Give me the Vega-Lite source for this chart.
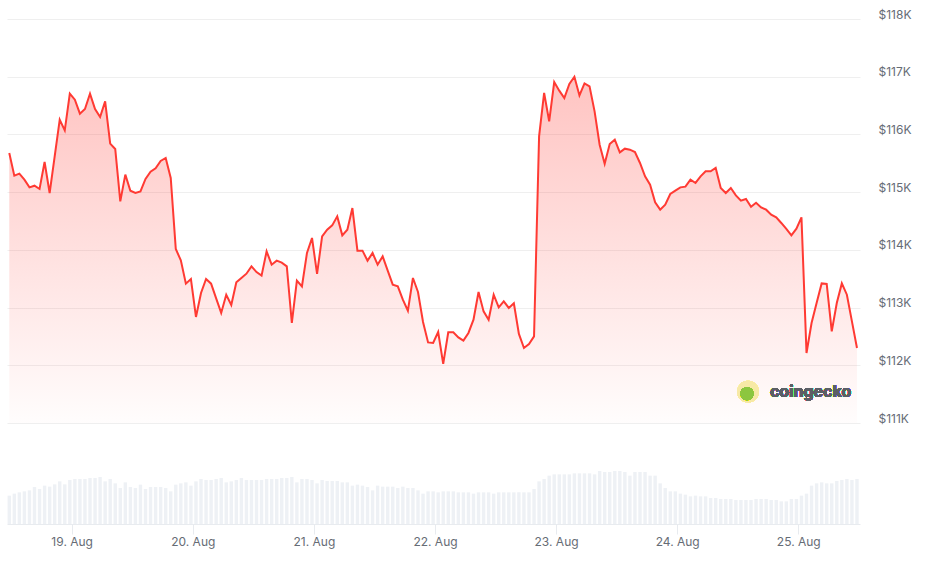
{
  "$schema": "https://vega.github.io/schema/vega-lite/v6.json",
  "width": 853,
  "height": 505,
  "autosize": {"type": "none"},
  "padding": {"left": 7, "top": 19, "right": 77, "bottom": 43},
  "background": "white",
  "config": {"view": {"stroke": null}, "font": "Inter"},
  "data": {"values": [
    {"t":"2025-08-18T11:38:00Z","p":115678,"v":42.5},
    {"t":"2025-08-18T12:38:00Z","p":115285,"v":45.5},
    {"t":"2025-08-18T13:38:00Z","p":115320,"v":47.5},
    {"t":"2025-08-18T14:38:00Z","p":115216,"v":49},
    {"t":"2025-08-18T15:38:00Z","p":115083,"v":50.5},
    {"t":"2025-08-18T16:38:00Z","p":115112,"v":55.5},
    {"t":"2025-08-18T17:38:00Z","p":115055,"v":52.5},
    {"t":"2025-08-18T18:38:00Z","p":115522,"v":57.5},
    {"t":"2025-08-18T19:38:00Z","p":114985,"v":56},
    {"t":"2025-08-18T20:38:00Z","p":115620,"v":59.5},
    {"t":"2025-08-18T21:38:00Z","p":116255,"v":64},
    {"t":"2025-08-18T22:38:00Z","p":116070,"v":59.5},
    {"t":"2025-08-18T23:38:00Z","p":116706,"v":66},
    {"t":"2025-08-19T00:38:00Z","p":116602,"v":67.5},
    {"t":"2025-08-19T01:38:00Z","p":116359,"v":67.5},
    {"t":"2025-08-19T02:38:00Z","p":116441,"v":67.5},
    {"t":"2025-08-19T03:38:00Z","p":116706,"v":69},
    {"t":"2025-08-19T04:38:00Z","p":116441,"v":69},
    {"t":"2025-08-19T05:38:00Z","p":116302,"v":70.5},
    {"t":"2025-08-19T06:38:00Z","p":116573,"v":64},
    {"t":"2025-08-19T07:38:00Z","p":115840,"v":67.5},
    {"t":"2025-08-19T08:38:00Z","p":115748,"v":61},
    {"t":"2025-08-19T09:38:00Z","p":114840,"v":54},
    {"t":"2025-08-19T10:38:00Z","p":115303,"v":62.5},
    {"t":"2025-08-19T11:38:00Z","p":115025,"v":55.5},
    {"t":"2025-08-19T12:38:00Z","p":114985,"v":54},
    {"t":"2025-08-19T13:38:00Z","p":115013,"v":59},
    {"t":"2025-08-19T14:38:00Z","p":115228,"v":52.5},
    {"t":"2025-08-19T15:38:00Z","p":115354,"v":55.5},
    {"t":"2025-08-19T16:38:00Z","p":115412,"v":55.5},
    {"t":"2025-08-19T17:38:00Z","p":115540,"v":55.5},
    {"t":"2025-08-19T18:38:00Z","p":115592,"v":54},
    {"t":"2025-08-19T19:38:00Z","p":115245,"v":49},
    {"t":"2025-08-19T20:38:00Z","p":114015,"v":59},
    {"t":"2025-08-19T21:38:00Z","p":113818,"v":61},
    {"t":"2025-08-19T22:38:00Z","p":113414,"v":62.5},
    {"t":"2025-08-19T23:38:00Z","p":113495,"v":57.5},
    {"t":"2025-08-20T00:38:00Z","p":112837,"v":64},
    {"t":"2025-08-20T01:38:00Z","p":113253,"v":67.5},
    {"t":"2025-08-20T02:38:00Z","p":113495,"v":66},
    {"t":"2025-08-20T03:38:00Z","p":113414,"v":66},
    {"t":"2025-08-20T04:38:00Z","p":113160,"v":67.5},
    {"t":"2025-08-20T05:38:00Z","p":112907,"v":69},
    {"t":"2025-08-20T06:38:00Z","p":113223,"v":62.5},
    {"t":"2025-08-20T07:38:00Z","p":113045,"v":64},
    {"t":"2025-08-20T08:38:00Z","p":113437,"v":66},
    {"t":"2025-08-20T09:38:00Z","p":113513,"v":69},
    {"t":"2025-08-20T10:38:00Z","p":113587,"v":66},
    {"t":"2025-08-20T11:38:00Z","p":113714,"v":66},
    {"t":"2025-08-20T12:38:00Z","p":113615,"v":66},
    {"t":"2025-08-20T13:38:00Z","p":113553,"v":66},
    {"t":"2025-08-20T14:38:00Z","p":113974,"v":67.5},
    {"t":"2025-08-20T15:38:00Z","p":113743,"v":67.5},
    {"t":"2025-08-20T16:38:00Z","p":113813,"v":67.5},
    {"t":"2025-08-20T17:38:00Z","p":113778,"v":69},
    {"t":"2025-08-20T18:38:00Z","p":113714,"v":69},
    {"t":"2025-08-20T19:38:00Z","p":112733,"v":70.5},
    {"t":"2025-08-20T20:38:00Z","p":113466,"v":62.5},
    {"t":"2025-08-20T21:38:00Z","p":113367,"v":67.5},
    {"t":"2025-08-20T22:38:00Z","p":113946,"v":67.5},
    {"t":"2025-08-20T23:38:00Z","p":114206,"v":66},
    {"t":"2025-08-21T00:38:00Z","p":113582,"v":61},
    {"t":"2025-08-21T01:38:00Z","p":114234,"v":66},
    {"t":"2025-08-21T02:38:00Z","p":114350,"v":64.5},
    {"t":"2025-08-21T03:38:00Z","p":114424,"v":64.5},
    {"t":"2025-08-21T04:38:00Z","p":114580,"v":64.5},
    {"t":"2025-08-21T05:38:00Z","p":114251,"v":62.5},
    {"t":"2025-08-21T06:38:00Z","p":114350,"v":62.5},
    {"t":"2025-08-21T07:38:00Z","p":114725,"v":57.5},
    {"t":"2025-08-21T08:38:00Z","p":113986,"v":59},
    {"t":"2025-08-21T09:38:00Z","p":113986,"v":57.5},
    {"t":"2025-08-21T10:38:00Z","p":113813,"v":55.5},
    {"t":"2025-08-21T11:38:00Z","p":113946,"v":50.5},
    {"t":"2025-08-21T12:38:00Z","p":113743,"v":57.5},
    {"t":"2025-08-21T13:38:00Z","p":113887,"v":56},
    {"t":"2025-08-21T14:38:00Z","p":113639,"v":56},
    {"t":"2025-08-21T15:38:00Z","p":113397,"v":56},
    {"t":"2025-08-21T16:38:00Z","p":113367,"v":54},
    {"t":"2025-08-21T17:38:00Z","p":113137,"v":56},
    {"t":"2025-08-21T18:38:00Z","p":112946,"v":54},
    {"t":"2025-08-21T19:38:00Z","p":113513,"v":54},
    {"t":"2025-08-21T20:38:00Z","p":113270,"v":50.5},
    {"t":"2025-08-21T21:38:00Z","p":112750,"v":45.5},
    {"t":"2025-08-21T22:38:00Z","p":112397,"v":49},
    {"t":"2025-08-21T23:38:00Z","p":112387,"v":49},
    {"t":"2025-08-22T00:38:00Z","p":112577,"v":47.5},
    {"t":"2025-08-22T01:38:00Z","p":112023,"v":49},
    {"t":"2025-08-22T02:38:00Z","p":112571,"v":49},
    {"t":"2025-08-22T03:38:00Z","p":112571,"v":49},
    {"t":"2025-08-22T04:38:00Z","p":112484,"v":47.5},
    {"t":"2025-08-22T05:38:00Z","p":112427,"v":47.5},
    {"t":"2025-08-22T06:38:00Z","p":112560,"v":47.5},
    {"t":"2025-08-22T07:38:00Z","p":112790,"v":45.5},
    {"t":"2025-08-22T08:38:00Z","p":113270,"v":47.5},
    {"t":"2025-08-22T09:38:00Z","p":112934,"v":47.5},
    {"t":"2025-08-22T10:38:00Z","p":112790,"v":47.5},
    {"t":"2025-08-22T11:38:00Z","p":113223,"v":45.5},
    {"t":"2025-08-22T12:38:00Z","p":113004,"v":47.5},
    {"t":"2025-08-22T13:38:00Z","p":113108,"v":47.5},
    {"t":"2025-08-22T14:38:00Z","p":112993,"v":47.5},
    {"t":"2025-08-22T15:38:00Z","p":113073,"v":47.5},
    {"t":"2025-08-22T16:38:00Z","p":112543,"v":47.5},
    {"t":"2025-08-22T17:38:00Z","p":112300,"v":47.5},
    {"t":"2025-08-22T18:38:00Z","p":112369,"v":47.5},
    {"t":"2025-08-22T19:38:00Z","p":112501,"v":52.5},
    {"t":"2025-08-22T20:38:00Z","p":115966,"v":64},
    {"t":"2025-08-22T21:38:00Z","p":116718,"v":67.5},
    {"t":"2025-08-22T22:38:00Z","p":116226,"v":72.5},
    {"t":"2025-08-22T23:38:00Z","p":116908,"v":74.5},
    {"t":"2025-08-23T00:38:00Z","p":116758,"v":74.5},
    {"t":"2025-08-23T01:38:00Z","p":116631,"v":74.5},
    {"t":"2025-08-23T02:38:00Z","p":116874,"v":74.5},
    {"t":"2025-08-23T03:38:00Z","p":117000,"v":76},
    {"t":"2025-08-23T04:38:00Z","p":116676,"v":76},
    {"t":"2025-08-23T05:38:00Z","p":116884,"v":76},
    {"t":"2025-08-23T06:38:00Z","p":116832,"v":76},
    {"t":"2025-08-23T07:38:00Z","p":116399,"v":74.5},
    {"t":"2025-08-23T08:38:00Z","p":115822,"v":79.5},
    {"t":"2025-08-23T09:38:00Z","p":115493,"v":78},
    {"t":"2025-08-23T10:38:00Z","p":115834,"v":78},
    {"t":"2025-08-23T11:38:00Z","p":115909,"v":79.5},
    {"t":"2025-08-23T12:38:00Z","p":115689,"v":79.5},
    {"t":"2025-08-23T13:38:00Z","p":115753,"v":78},
    {"t":"2025-08-23T14:38:00Z","p":115736,"v":72.5},
    {"t":"2025-08-23T15:38:00Z","p":115696,"v":78},
    {"t":"2025-08-23T16:38:00Z","p":115505,"v":78},
    {"t":"2025-08-23T17:38:00Z","p":115273,"v":78},
    {"t":"2025-08-23T18:38:00Z","p":115129,"v":72.5},
    {"t":"2025-08-23T19:38:00Z","p":114823,"v":72.5},
    {"t":"2025-08-23T20:38:00Z","p":114696,"v":61},
    {"t":"2025-08-23T21:38:00Z","p":114783,"v":54},
    {"t":"2025-08-23T22:38:00Z","p":114968,"v":49},
    {"t":"2025-08-23T23:38:00Z","p":115025,"v":49},
    {"t":"2025-08-24T00:38:00Z","p":115083,"v":45.5},
    {"t":"2025-08-24T01:38:00Z","p":115095,"v":44},
    {"t":"2025-08-24T02:38:00Z","p":115216,"v":41.5},
    {"t":"2025-08-24T03:38:00Z","p":115159,"v":42.5},
    {"t":"2025-08-24T04:38:00Z","p":115273,"v":41.5},
    {"t":"2025-08-24T05:38:00Z","p":115360,"v":41.5},
    {"t":"2025-08-24T06:38:00Z","p":115360,"v":39},
    {"t":"2025-08-24T07:38:00Z","p":115419,"v":39},
    {"t":"2025-08-24T08:38:00Z","p":115072,"v":37.5},
    {"t":"2025-08-24T09:38:00Z","p":114985,"v":37.5},
    {"t":"2025-08-24T10:38:00Z","p":115072,"v":37.5},
    {"t":"2025-08-24T11:38:00Z","p":114945,"v":36},
    {"t":"2025-08-24T12:38:00Z","p":114852,"v":36},
    {"t":"2025-08-24T13:38:00Z","p":114881,"v":36},
    {"t":"2025-08-24T14:38:00Z","p":114748,"v":36},
    {"t":"2025-08-24T15:38:00Z","p":114817,"v":37.5},
    {"t":"2025-08-24T16:38:00Z","p":114736,"v":37.5},
    {"t":"2025-08-24T17:38:00Z","p":114696,"v":37.5},
    {"t":"2025-08-24T18:38:00Z","p":114610,"v":36},
    {"t":"2025-08-24T19:38:00Z","p":114563,"v":36},
    {"t":"2025-08-24T20:38:00Z","p":114466,"v":34},
    {"t":"2025-08-24T21:38:00Z","p":114362,"v":34},
    {"t":"2025-08-24T22:38:00Z","p":114251,"v":37.5},
    {"t":"2025-08-24T23:38:00Z","p":114367,"v":37.5},
    {"t":"2025-08-25T00:38:00Z","p":114563,"v":42.5},
    {"t":"2025-08-25T01:38:00Z","p":112213,"v":45.5},
    {"t":"2025-08-25T02:38:00Z","p":112733,"v":57.5},
    {"t":"2025-08-25T03:38:00Z","p":113080,"v":61},
    {"t":"2025-08-25T04:38:00Z","p":113419,"v":62.5},
    {"t":"2025-08-25T05:38:00Z","p":113409,"v":61},
    {"t":"2025-08-25T06:38:00Z","p":112588,"v":61},
    {"t":"2025-08-25T07:38:00Z","p":113080,"v":64.5},
    {"t":"2025-08-25T08:38:00Z","p":113419,"v":66},
    {"t":"2025-08-25T09:38:00Z","p":113223,"v":67.5},
    {"t":"2025-08-25T10:38:00Z","p":112761,"v":66},
    {"t":"2025-08-25T11:38:00Z","p":112300,"v":67.5}
  ]},
  "encoding": {
    "x": {
      "field": "t",
      "type": "temporal",
      "scale": {
        "type": "utc",
        "padding": 0,
        "domain": [
          {"year": 2025, "month": 8, "date": 18, "hours": 11, "minutes": 11, "utc": true},
          {"year": 2025, "month": 8, "date": 25, "hours": 12, "minutes": 14, "utc": true}
        ]
      },
      "axis": {
        "title": null,
        "grid": false,
        "values": [
          {"year": 2025, "month": 8, "date": 19, "utc": true},
          {"year": 2025, "month": 8, "date": 20, "utc": true},
          {"year": 2025, "month": 8, "date": 21, "utc": true},
          {"year": 2025, "month": 8, "date": 22, "utc": true},
          {"year": 2025, "month": 8, "date": 23, "utc": true},
          {"year": 2025, "month": 8, "date": 24, "utc": true},
          {"year": 2025, "month": 8, "date": 25, "utc": true}
        ],
        "labelExpr": "utcFormat(datum.value, '%d. %b')",
        "domainColor": "#e8ebef",
        "tickColor": "#e8ebef",
        "tickSize": 10,
        "labelPadding": 2,
        "labelFontSize": 12,
        "labelColor": "#666c75",
        "labelFlush": false,
        "labelOverlap": false
      }
    }
  },
  "layer": [
    {
      "mark": {"type": "bar", "color": "#eef1f5", "size": 3.4},
      "encoding": {
        "y": {"field": "v", "type": "quantitative", "scale": {"domain": [0, 757.5], "nice": false}, "axis": null}
      }
    },
    {
      "encoding": {
        "y": {
          "field": "p",
          "type": "quantitative",
          "scale": {"domain": [109250, 118000], "zero": false, "nice": false},
          "axis": {
            "orient": "right",
            "title": null,
            "values": [111000, 112000, 113000, 114000, 115000, 116000, 117000, 118000],
            "grid": true,
            "gridColor": "#efefef",
            "ticks": false,
            "domain": false,
            "labelAlign": "left",
            "labelBaseline": "alphabetic",
            "labelOffset": -1,
            "labelPadding": 18,
            "labelFontSize": 12,
            "labelColor": "#666c75",
            "labelExpr": "'$' + format(datum.value / 1000, 'd') + 'K'"
          }
        }
      },
      "layer": [
        {
          "mark": {
            "type": "area",
            "color": {
              "gradient": "linear",
              "x1": 0, "y1": 0, "x2": 0, "y2": 1,
              "stops": [
                {"offset": 0, "color": "rgba(255,58,51,0.3)"},
                {"offset": 1, "color": "rgba(255,58,51,0.01)"}
              ]
            }
          },
          "encoding": {"y2": {"datum": 111000}}
        },
        {
          "mark": {"type": "line", "color": "#ff3a33", "strokeWidth": 2}
        },
        {
          "mark": {"type": "point", "filled": true, "color": "#f7e9a6", "size": 470, "opacity": 1},
          "encoding": {
            "x": {"datum": {"year": 2025, "month": 8, "date": 24, "hours": 14, "minutes": 2, "utc": true}},
            "y": {"datum": 111543}
          }
        },
        {
          "mark": {"type": "point", "filled": true, "color": "#8cc63f", "size": 170, "opacity": 1, "xOffset": -1, "yOffset": 2},
          "encoding": {
            "x": {"datum": {"year": 2025, "month": 8, "date": 24, "hours": 14, "minutes": 2, "utc": true}},
            "y": {"datum": 111543}
          }
        },
        {
          "mark": {"type": "text", "text": "coingecko", "align": "left", "baseline": "middle", "fontSize": 16, "fontWeight": "bold", "color": "#5b5f66"},
          "encoding": {
            "x": {"datum": {"year": 2025, "month": 8, "date": 24, "hours": 18, "minutes": 23, "utc": true}},
            "y": {"datum": 111543}
          }
        }
      ]
    }
  ],
  "resolve": {"scale": {"y": "independent"}}
}
